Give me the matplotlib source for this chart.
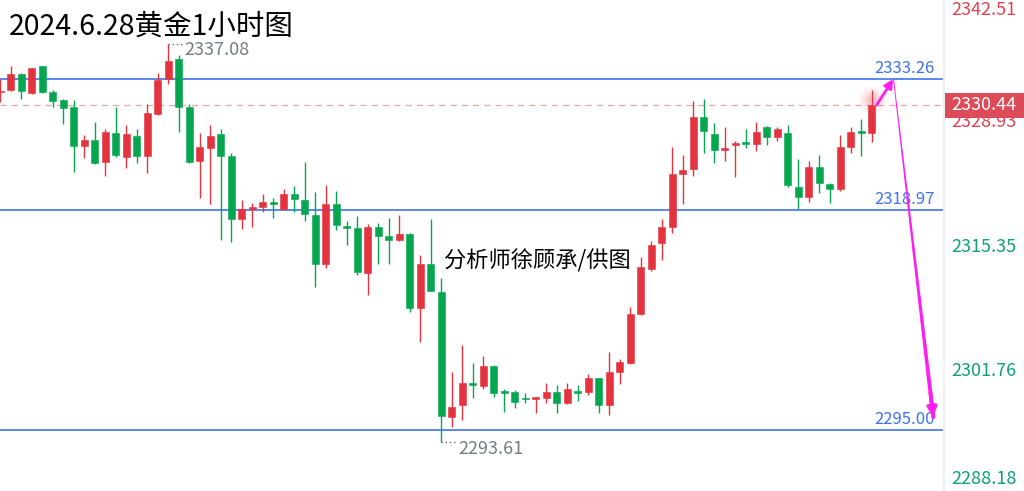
import matplotlib
matplotlib.use('Agg')
import matplotlib.pyplot as plt
import matplotlib.transforms as mtransforms
from matplotlib.patches import Rectangle
from matplotlib.lines import Line2D

plt.rcParams['font.family'] = ['Noto Sans CJK SC', 'DejaVu Sans']

# ---------------- data ----------------
opens = [2331.8, 2332.06, 2333.8, 2331.7, 2334.68, 2331.88, 2330.97, 2330.24, 2325.95, 2326.6,
         2324.2, 2327.41, 2324.72, 2327.08, 2324.86, 2329.44, 2333.23, 2335.44, 2330.24, 2324.35,
         2325.7, 2327.26, 2324.86, 2317.99, 2319.04, 2319.26, 2319.8, 2319.04, 2320.72, 2320.06,
         2318.42, 2313.08, 2319.59, 2317.26, 2316.97, 2312.06, 2317.15, 2316.13, 2315.66, 2316.31,
         2308.31, 2313.04, 2310.05, 2296.43, 2297.7, 2300.13, 2299.77, 2301.95, 2299.11, 2299.11,
         2298.46, 2298.35, 2298.49, 2299.11, 2297.88, 2299.22, 2299.11, 2300.6, 2297.7, 2301.33,
         2302.24, 2307.62, 2312.5, 2315.33, 2317.15, 2322.86, 2323.41, 2329.08, 2327.26, 2325.51,
         2326.03, 2326.3, 2326.17, 2328.06, 2326.97, 2327.41, 2321.51, 2320.42, 2323.63, 2321.8,
         2321.23, 2325.81, 2327.59, 2327.33]
highs = [2333.3, 2334.68, 2333.9, 2334.5, 2334.7, 2332.06, 2331.05, 2330.97, 2327.15, 2328.6,
         2327.77, 2330.24, 2328.24, 2327.77, 2330.53, 2333.95, 2337.08, 2335.88, 2330.53, 2327.4,
         2328.24, 2327.77, 2325.15, 2320.06, 2319.77, 2320.72, 2320.24, 2321.23, 2321.59, 2324.17,
         2320.9, 2321.7, 2321.04, 2317.8, 2318.3, 2317.44, 2317.52, 2318.06, 2318.42, 2316.5,
         2314.06, 2317.95, 2311.5, 2301.26, 2304.24, 2302.24, 2303.07, 2302.06, 2299.41, 2299.33,
         2298.97, 2298.6, 2300.13, 2299.88, 2300.13, 2299.88, 2301.08, 2300.65, 2303.51, 2302.68,
         2308.42, 2313.81, 2315.62, 2317.95, 2325.81, 2324.97, 2330.9, 2331.05, 2328.42, 2328.06,
         2326.5, 2327.77, 2328.53, 2328.13, 2327.99, 2328.24, 2324.5, 2324.31, 2324.97, 2321.88,
         2327.15, 2328.06, 2328.86, 2332.06]
lows = [2330.8, 2332.0, 2331.1, 2331.6, 2331.7, 2330.24, 2328.32, 2323.15, 2324.6, 2323.99,
        2322.68, 2324.72, 2323.52, 2324.13, 2323.04, 2329.33, 2332.72, 2327.51, 2324.1, 2320.24,
        2319.59, 2315.7, 2315.5, 2316.86, 2317.15, 2318.78, 2318.13, 2318.97, 2318.78, 2317.8,
        2310.6, 2312.61, 2316.78, 2315.15, 2311.87, 2309.69, 2313.04, 2313.04, 2315.62, 2307.8,
        2304.53, 2310.1, 2293.61, 2295.33, 2296.06, 2298.49, 2299.41, 2298.6, 2296.97, 2297.33,
        2297.88, 2296.86, 2297.95, 2296.86, 2297.84, 2298.17, 2298.78, 2296.86, 2296.6, 2299.99,
        2302.17, 2307.51, 2312.35, 2313.51, 2316.5, 2319.62, 2322.71, 2325.22, 2324.06, 2324.35,
        2322.53, 2325.7, 2325.44, 2326.06, 2326.5, 2321.44, 2319.04, 2319.88, 2320.86, 2319.77,
        2321.08, 2325.15, 2324.86, 2326.42]
closes = [2332.0, 2333.8, 2331.9, 2334.46, 2331.81, 2330.9, 2330.06, 2325.9, 2326.6, 2324.13,
          2327.45, 2324.98, 2327.26, 2324.86, 2329.52, 2333.15, 2335.26, 2330.24, 2324.17, 2325.81,
          2327.08, 2324.86, 2317.99, 2319.04, 2319.26, 2319.88, 2319.62, 2320.72, 2320.13, 2318.5,
          2313.08, 2319.59, 2317.33, 2317.04, 2312.24, 2317.15, 2316.17, 2315.66, 2316.31, 2308.31,
          2313.04, 2310.16, 2296.5, 2297.5, 2300.13, 2299.84, 2301.95, 2298.97, 2298.97, 2298.06,
          2298.31, 2298.49, 2299.11, 2297.88, 2299.41, 2299.04, 2300.6, 2297.7, 2301.26, 2302.4,
          2307.62, 2312.72, 2315.15, 2317.15, 2322.86, 2323.33, 2329.08, 2327.62, 2325.51, 2325.77,
          2326.31, 2326.2, 2327.45, 2326.97, 2327.77, 2321.7, 2320.42, 2323.63, 2321.95, 2321.23,
          2325.81, 2327.45, 2327.33, 2330.44]

level_lines = [2333.26, 2318.97, 2295.00]
current_price = 2330.44
axis_ticks = [2342.51, 2328.93, 2315.35, 2301.76, 2288.18]
axis_tick_up = [True, True, False, False, False]
high_label = 2337.08
low_label = 2293.61
title = '2024.6.28黄金1小时图'
watermark = '分析师徐顾承/供图'

# ---------------- style ----------------
UP = '#e2333f'
DOWN = '#06a650'
BLUE = '#3d72ef'
PINK = '#e9a3a9'
MAG = '#ff1ef0'
AXRED = '#dd4453'
AXGREEN = '#0e9f7c'
BOXRED = '#dc4b58'

W, H = 1024, 491
fig = plt.figure(figsize=(W / 100, H / 100), dpi=100)
fig.patch.set_facecolor('white')
PLOT_W = 943
ax = fig.add_axes([0, 0, PLOT_W / W, 1])
ax.set_facecolor('white')
for s in ax.spines.values():
    s.set_visible(False)
ax.set_xticks([])
ax.set_yticks([])

px_per_bar = 10.5
x0 = 0.2 / px_per_bar
ax.set_xlim(-x0, (PLOT_W - 0.2) / px_per_bar)
ymax = 2333.26 + 79 / 9.166
ymin = 2333.26 - (H - 79) / 9.166
ax.set_ylim(ymin, ymax)

# candles
bw = 0.66
for i, (o, h, l, c) in enumerate(zip(opens, highs, lows, closes)):
    col = UP if c >= o else DOWN
    ax.vlines(i, l, h, color=col, lw=1.0, zorder=3)
    bot = min(o, c)
    hgt = max(abs(c - o), 0.2)
    ax.add_patch(Rectangle((i - bw / 2, bot), bw, hgt, facecolor=col,
                           edgecolor=col, lw=0.4, zorder=4))

# horizontal levels
for lv in level_lines:
    ax.axhline(lv, color=BLUE, lw=1.2, zorder=2)
    ax.annotate(f'{lv:.2f}', xy=(1, lv), xycoords=('axes fraction', 'data'),
                xytext=(-6, 7.5), textcoords='offset points', ha='right', va='center',
                fontsize=12, color=BLUE, zorder=5)

ax.axhline(current_price, color=PINK, lw=0.9, ls=(0, (5, 4)), zorder=2)

# high / low labels
hi_i = highs.index(high_label)
lo_i = lows.index(low_label)
ax.plot([hi_i, hi_i + 1.45], [high_label, high_label], color='#666a75', lw=1.0,
        ls=(0, (1, 2)), zorder=5)
ax.annotate(f'{high_label:.2f}', xy=(hi_i + 1.55, high_label), xytext=(0, -4),
            textcoords='offset points', ha='left', va='center', fontsize=13,
            color='#787b86', zorder=5)
ax.plot([lo_i, lo_i + 1.45], [low_label, low_label], color='#666a75', lw=1.0,
        ls=(0, (1, 2)), zorder=5)
ax.annotate(f'{low_label:.2f}', xy=(lo_i + 1.6, low_label), xytext=(0, -4.5),
            textcoords='offset points', ha='left', va='center', fontsize=13,
            color='#787b86', zorder=5)

# glow on last candle
last = len(closes) - 1
for r, a in [(14, 0.06), (11, 0.08), (8, 0.10), (5, 0.14)]:
    ax.scatter([last], [current_price + 0.5], s=(2 * r * 0.72) ** 2, color='#f05060',
               alpha=a, lw=0, zorder=6)

# magenta arrows
def px2x(px):
    return (px - 0.2) / px_per_bar

def py2p(py):
    return 2333.26 - (py - 79) / 9.166

a1s = (px2x(876.7), py2p(105))
a1e = (px2x(893.3), level_lines[0])
ax.annotate('', xy=a1e, xytext=a1s,
            arrowprops=dict(arrowstyle='-|>', color=MAG, lw=2.0, mutation_scale=13,
                            shrinkA=0, shrinkB=0), zorder=7)
a2s = (px2x(893.5), level_lines[0])
a2e = (px2x(933.3), py2p(417))
n = 14
for k in range(n):
    t0, t1 = k / n, (k + 1) / n
    xs = [a2s[0] + (a2e[0] - a2s[0]) * t0, a2s[0] + (a2e[0] - a2s[0]) * t1]
    ys = [a2s[1] + (a2e[1] - a2s[1]) * t0, a2s[1] + (a2e[1] - a2s[1]) * t1]
    ax.plot(xs, ys, color=MAG, lw=0.5 + 2.4 * t1, solid_capstyle='round', zorder=7)
tpre = 0.93
ax.annotate('', xy=a2e,
            xytext=(a2s[0] + (a2e[0] - a2s[0]) * tpre, a2s[1] + (a2e[1] - a2s[1]) * tpre),
            arrowprops=dict(arrowstyle='-|>', color=MAG, lw=2.5, mutation_scale=14,
                            shrinkA=0, shrinkB=0), zorder=7)

# texts
fig.text(9 / W, 1 - 27 / H, title, fontsize=20.5, color='black', ha='left', va='center')
ax.text(px2x(444), py2p(261), watermark, fontsize=16, color='black', ha='left',
        va='center', zorder=5)

# right price axis
fig.add_artist(Line2D([PLOT_W / W + 0.001] * 2, [0, 1], transform=fig.transFigure,
                      color='#eeeef4', lw=1.6))
lab_x = 984 / W
trans = mtransforms.blended_transform_factory(fig.transFigure, ax.transData)
for v, up in zip(axis_ticks, axis_tick_up):
    col = AXRED if up else AXGREEN
    if v > ymax - 1.0:
        fig.text(lab_x, 1 - 10 / H, f'{v:.2f}', fontsize=13, color=col, ha='center', va='center')
    elif v < ymin + 1.0:
        fig.text(lab_x, 1 - 479 / H, f'{v:.2f}', fontsize=13, color=col, ha='center', va='center')
    else:
        ax.annotate(f'{v:.2f}', xy=(lab_x, v), xycoords=trans, xytext=(0, -2.6),
                    textcoords='offset points', ha='center', va='center', fontsize=13,
                    color=col, annotation_clip=False)

# current price box (figure level, above the axes)
fig.add_artist(Rectangle((PLOT_W / W + 0.0015, current_price - 13.0 / 9.166), 1 - PLOT_W / W,
                         25 / 9.166, transform=trans, facecolor=BOXRED,
                         edgecolor='none', zorder=9))
cp_txt = fig.text(lab_x, 0, f'{current_price:.2f}', fontsize=13, color='white',
                  ha='center', va='center', zorder=11)
cp_txt.set_transform(trans)
cp_txt.set_position((lab_x, current_price))

fig.savefig('out.png', dpi=100, facecolor='white')
